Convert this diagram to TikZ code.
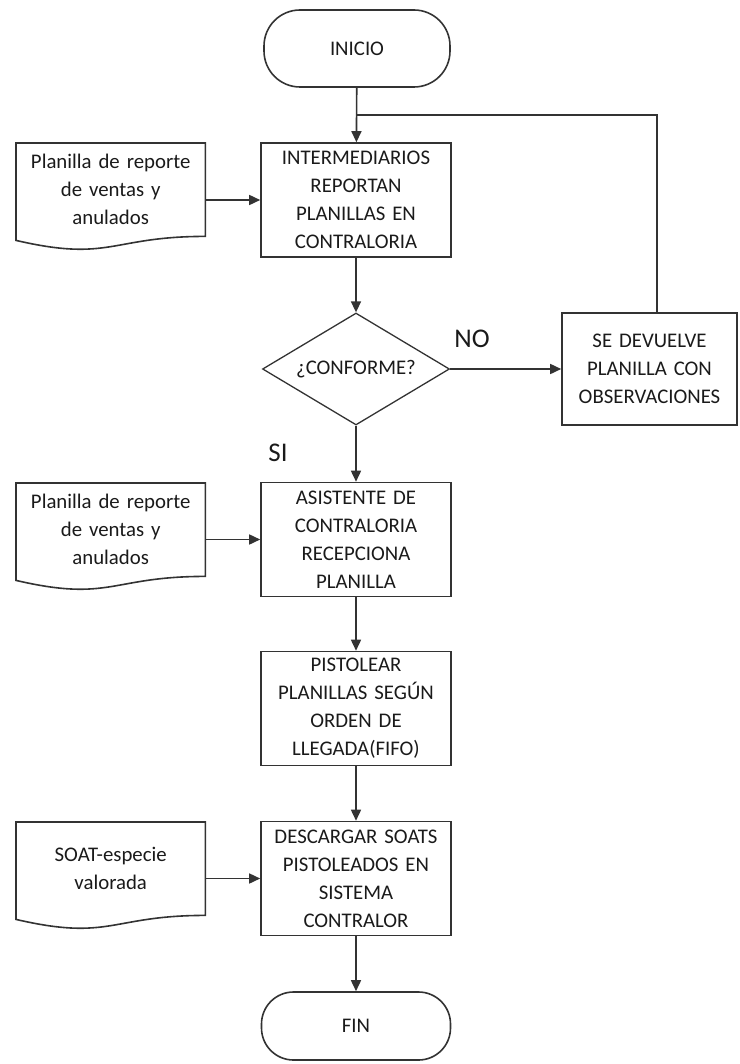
\documentclass[tikz,border=0pt]{standalone}
\usepackage{fontspec}
\setmainfont{Carlito}
\usetikzlibrary{shapes.geometric,arrows.meta,calc}
\definecolor{ink}{HTML}{1A1A1A}
\definecolor{edge}{HTML}{333333}
\begin{document}
\begin{tikzpicture}[x=1pt,y=-1pt,
  every node/.style={text=ink,font=\fontsize{20.8}{28}\selectfont},
  procbox/.style={draw=edge,line width=1.6pt,rectangle,minimum width=190pt,
    minimum height=114pt,inner sep=2pt,align=center,text width=186pt},
  termbox/.style={draw=edge,line width=1.6pt,rectangle,rounded corners=36pt,
    minimum width=186pt,align=center},
  decbox/.style={draw=edge,line width=1.3pt,diamond,aspect=1.67,inner sep=0pt,
    minimum width=187pt,minimum height=112pt,align=center},
  docarea/.style={rectangle,anchor=north west,minimum width=189pt,
    minimum height=93pt,inner sep=0pt,align=center,text width=185pt},
  docline/.style={draw=edge,line width=1.6pt,line join=miter},
  flow/.style={draw=edge,line width=1.6pt,-{Triangle[width=10pt,length=11pt]}},
  plain/.style={draw=edge,line width=1.6pt},
  tag/.style={font=\fontsize{27}{30}\selectfont}]
  \useasboundingbox (0,0) rectangle (739,1064);

  % terminators
  \node[termbox,minimum height=77pt] (inicio) at (357,48.5) {INICIO};
  \node[termbox,minimum height=68pt,rounded corners=32pt,minimum width=189pt] (fin) at (356,1026) {FIN};

  % process steps
  \node[procbox] (inter) at (356,200) {INTERMEDIARIOS\\REPORTAN\\PLANILLAS EN\\CONTRALORIA};
  \node[decbox] (conf) at (356,369) {¿CONFORME?};
  \node[procbox,minimum width=175pt,minimum height=112pt,text width=171pt] (dev) at (649.5,369)
    {SE DEVUELVE\\PLANILLA CON\\OBSERVACIONES};
  \node[procbox] (asist) at (356,539.5) {ASISTENTE DE\\CONTRALORIA\\RECEPCIONA\\PLANILLA};
  \node[procbox] (pist) at (356,708.5) {PISTOLEAR\\PLANILLAS SEGÚN\\ORDEN DE\\LLEGADA(FIFO)};
  \node[procbox] (desc) at (356,878.5) {DESCARGAR SOATS\\PISTOLEADOS EN\\SISTEMA\\CONTRALOR};

  % documents
  \node[docarea] (doca) at (16,143) {Planilla de reporte\\de ventas y\\anulados};
  \node[docarea] (docb) at (16,483) {Planilla de reporte\\de ventas y\\anulados};
  \node[docarea] (docc) at (16,822) {SOAT-especie\\valorada};
  \foreach \d in {doca,docb,docc}{
    \draw[docline] (\d.south west) ++(0,4) -- (\d.north west) -- (\d.north east)
      -- (\d.south east) .. controls ($(\d.south)$) and ($(\d.south)+(0,26)$)
      .. ($(\d.south west)+(0,4)$) -- cycle;
  }

  % connectors
  \coordinate (join) at (inicio.south |- 0,115);
  \draw[flow] (inicio) -- (inter);
  \draw[flow] (inter) -- (conf);
  \draw[flow] (conf) -- (dev);
  \draw[flow] (conf) -- (asist);
  \draw[flow] (asist) -- (pist);
  \draw[flow] (pist) -- (desc);
  \draw[flow] (desc) -- (fin);
  \draw[plain] (dev.north -| 657,0) |- (join);
  \draw[flow] (inter.west -| doca.east) -- (inter.west);
  \draw[flow] (asist.west -| docb.east) -- (asist.west);
  \draw[flow] (desc.west -| docc.east) -- (desc.west);

  % branch labels
  \node[tag] (no) at (472,339) {NO};
  \node[tag] (si) at (278,453) {SI};
\end{tikzpicture}
\end{document}
